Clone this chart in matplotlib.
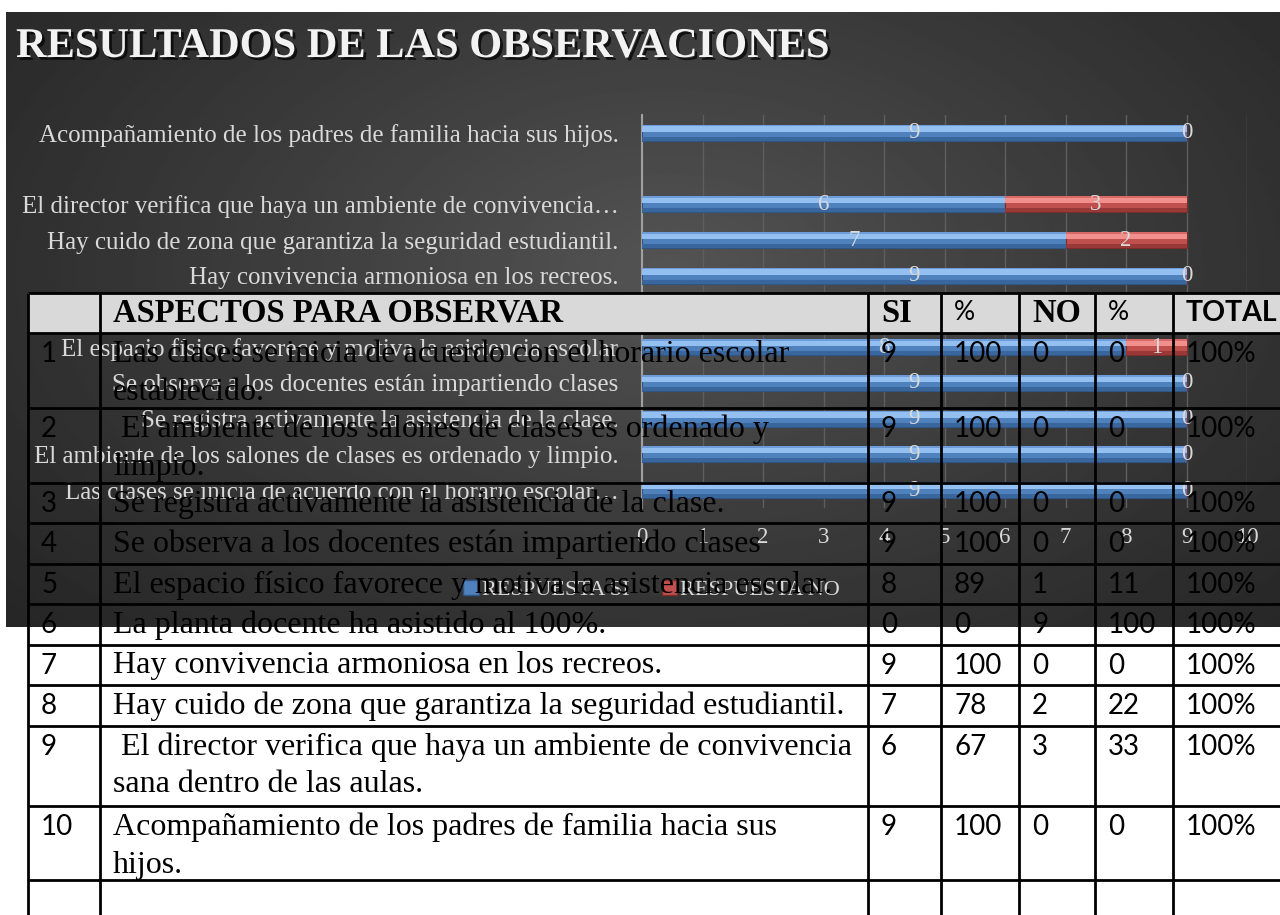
import numpy as np
import matplotlib.pyplot as plt
import matplotlib.patheffects as pe
from matplotlib.patches import Patch, Rectangle

# ---------------- data ----------------
title = 'RESULTADOS DE LAS OBSERVACIONES'

# chart categories, bottom to top ('' is the empty slot of the chart)
chart_labels = [
    'Las clases se inicia de acuerdo con el horario escolar…',
    'El ambiente de los salones de clases es ordenado y limpio.',
    'Se registra activamente la asistencia de la clase.',
    'Se observa a los docentes están impartiendo clases',
    'El espacio físico favorece y motiva la asistencia escolar',
    'La planta docente ha asistido al 100%.',
    'Hay convivencia armoniosa en los recreos.',
    'Hay cuido de zona que garantiza la seguridad estudiantil.',
    'El director verifica que haya un ambiente de convivencia…',
    '',
    'Acompañamiento de los padres de familia hacia sus hijos.',
]
resp_si = [9, 9, 9, 9, 8, 0, 9, 7, 6, np.nan, 9]
resp_no = [0, 0, 0, 0, 1, 9, 0, 2, 3, np.nan, 0]
series_names = ['RESPUESTA SI', 'RESPUESTA NO']
x_ticks = list(range(0, 11))

# table laid over the chart
table_header = ['', 'ASPECTOS PARA OBSERVAR', 'SI', '%', 'NO', '%', 'TOTAL']
row_num = ['1', '2', '3', '4', '5', '6', '7', '8', '9', '10', '']
aspectos = [
    'Las clases se inicia de acuerdo con el horario escolar\nestablecido.',
    ' El ambiente de los salones de clases es ordenado y\nlimpio.',
    'Se registra activamente la asistencia de la clase.',
    'Se observa a los docentes están impartiendo clases',
    'El espacio físico favorece y motiva la asistencia escolar.',
    'La planta docente ha asistido al 100%.',
    'Hay convivencia armoniosa en los recreos.',
    'Hay cuido de zona que garantiza la seguridad estudiantil.',
    ' El director verifica que haya un ambiente de convivencia\nsana dentro de las aulas.',
    'Acompañamiento de los padres de familia hacia sus\nhijos.',
    '',
]
tab_si = ['9', '9', '9', '9', '8', '0', '9', '7', '6', '9', '']
tab_si_pct = ['100', '100', '100', '100', '89', '0', '100', '78', '67', '100', '']
tab_no = ['0', '0', '0', '0', '1', '9', '0', '2', '3', '0', '']
tab_no_pct = ['0', '0', '0', '0', '11', '100', '0', '22', '33', '0', '']
tab_total = ['100%'] * 10 + ['']

# ---------------- layout (pixels) ----------------
W, H = 1280, 915
panel = (6, 12, 1280, 627)            # left, top, right, bottom
chart_box = (642, 115, 1247, 508)
col_edges = [28, 100, 868, 941, 1019, 1095, 1173]
row_edges = [293, 333, 408, 483, 523, 564, 604, 645, 685, 726, 806, 880]
line_step = 38

SERIF = 'Liberation Serif'
SANS = 'Lato'
LIGHT = '#d9d9d9'

fig = plt.figure(figsize=(W / 100, H / 100), dpi=100)


def fig_rect(l, t, r, b):
    return [l / W, 1 - b / H, (r - l) / W, (b - t) / H]


# dark background with radial gradient
ax_bg = fig.add_axes(fig_rect(*panel), zorder=0)
gx, gy = np.meshgrid(np.linspace(0, 1, 400), np.linspace(0, 1, 300))
r = np.sqrt(((gx - 0.52) / 0.75) ** 2 + ((gy - 0.42) / 0.95) ** 2)
shade = 0.14 + (0.33 - 0.14) * np.clip(1 - r, 0, 1) ** 1.2
ax_bg.imshow(shade, cmap='gray', vmin=0, vmax=1, aspect='auto',
             extent=[0, 1, 1, 0], interpolation='bilinear')
ax_bg.set_axis_off()

fig.text(16 / W, 1 - 47 / H, title, fontsize=30.5, weight='bold', family=SERIF,
         color='#f2f2f2', va='center',
         path_effects=[pe.withSimplePatchShadow(offset=(2, -2), shadow_rgbFace='black', alpha=0.7)])

# ---------------- bar chart ----------------
ax = fig.add_axes(fig_rect(*chart_box), zorder=1)
ax.patch.set_alpha(0)

y = np.arange(len(chart_labels))
si = np.array(resp_si, dtype=float)
no = np.array(resp_no, dtype=float)
ok = ~np.isnan(si)
h = 0.45

styles = [
    dict(mid='#4f81bd', light='#93c0f0', top='#6d9cd8', dark='#3a669e', edge='#2f5585'),
    dict(mid='#c0504d', light='#f2908d', top='#d76a67', dark='#983937', edge='#7a2d2b'),
]


def bevel_bars(ypos, left, width, st):
    base = ax.barh(ypos, width, left=left, height=h, color=st['mid'],
                   edgecolor=st['edge'], linewidth=0.8, zorder=3)
    ax.barh(ypos + h / 2 - 0.27 * h, width, left=left, height=0.34 * h,
            color=st['light'], linewidth=0, zorder=4)
    ax.barh(ypos + h / 2 - 0.05 * h, width, left=left, height=0.1 * h,
            color=st['top'], linewidth=0, zorder=4)
    ax.barh(ypos - h / 2 + 0.13 * h, width, left=left, height=0.26 * h,
            color=st['dark'], linewidth=0, zorder=4)
    return base


bars_si = bevel_bars(y[ok], 0, si[ok], styles[0])
bars_no = bevel_bars(y[ok], si[ok], no[ok], styles[1])
for cont, vals in ((bars_si, si[ok]), (bars_no, no[ok])):
    ax.bar_label(cont, labels=[f'{int(v)}' for v in vals], label_type='center',
                 fontsize=16.5, family=SERIF, color=LIGHT, zorder=6)

ax.set_xlim(0, 10)
ax.set_ylim(-0.5, len(chart_labels) - 0.5)
ax.set_xticks(x_ticks)
ax.set_yticks(y, chart_labels)
ax.grid(axis='x', color='#5e5e5e', linewidth=1, zorder=0)
ax.set_axisbelow(True)
for s in ('top', 'right', 'bottom'):
    ax.spines[s].set_visible(False)
ax.spines['left'].set_color('#a0a0a0')
ax.spines['left'].set_linewidth(1.5)
ax.tick_params(axis='y', length=0, pad=17, labelsize=18, labelcolor=LIGHT)
ax.tick_params(axis='x', length=0, pad=14, labelsize=16.5, labelcolor=LIGHT)
for t in ax.get_xticklabels() + ax.get_yticklabels():
    t.set_family(SERIF)

handles = [Patch(facecolor=styles[0]['mid'], edgecolor=styles[0]['edge']),
           Patch(facecolor=styles[1]['mid'], edgecolor=styles[1]['edge'])]
ax.legend(handles, series_names, loc='center left', ncol=2, frameon=False,
          bbox_to_anchor=(463 / W, 1 - 590 / H), bbox_transform=fig.transFigure,
          prop=dict(family=SERIF, size=16), labelcolor=LIGHT,
          handlelength=0.7, handleheight=0.7, handletextpad=0.15,
          columnspacing=1.45, borderpad=0, borderaxespad=0)

# ---------------- table overlay ----------------
ax_t = fig.add_axes([0, 0, 1, 1], zorder=3)
ax_t.set_xlim(0, W)
ax_t.set_ylim(H, 0)
ax_t.set_axis_off()
ax_t.patch.set_alpha(0)

ax_t.add_patch(Rectangle((col_edges[0], row_edges[0]), W - col_edges[0],
                         row_edges[1] - row_edges[0], facecolor='#d9d9d9', zorder=0))
ax_t.hlines(row_edges, col_edges[0], W + 10, color='black', linewidth=2)
ax_t.vlines(col_edges, row_edges[0], H + 10, color='black', linewidth=2)

header_fonts = [
    dict(family=SANS, size=20),
    dict(family=SERIF, size=23.5, weight='bold'),
    dict(family=SERIF, size=23.5, weight='bold'),
    dict(family=SANS, size=19),
    dict(family=SERIF, size=23.5, weight='bold'),
    dict(family=SANS, size=19),
    dict(family=SANS, size=20.5, weight='bold'),
]
body_fonts = [dict(family=SANS, size=20), dict(family=SERIF, size=23)] + [dict(family=SANS, size=20)] * 5

for c, txt in enumerate(table_header):
    ax_t.text(col_edges[c] + 13, (row_edges[0] + row_edges[1]) / 2, txt,
              ha='left', va='center', color='black', **header_fonts[c])

columns = [row_num, aspectos, tab_si, tab_si_pct, tab_no, tab_no_pct, tab_total]
for i in range(len(row_num)):
    top = row_edges[i + 1]
    for c, col in enumerate(columns):
        for k, line in enumerate(col[i].split('\n')):
            ax_t.text(col_edges[c] + 13, top + 21 + k * line_step, line,
                      ha='left', va='center', color='black', **body_fonts[c])

fig.savefig('out.png', dpi=100)
